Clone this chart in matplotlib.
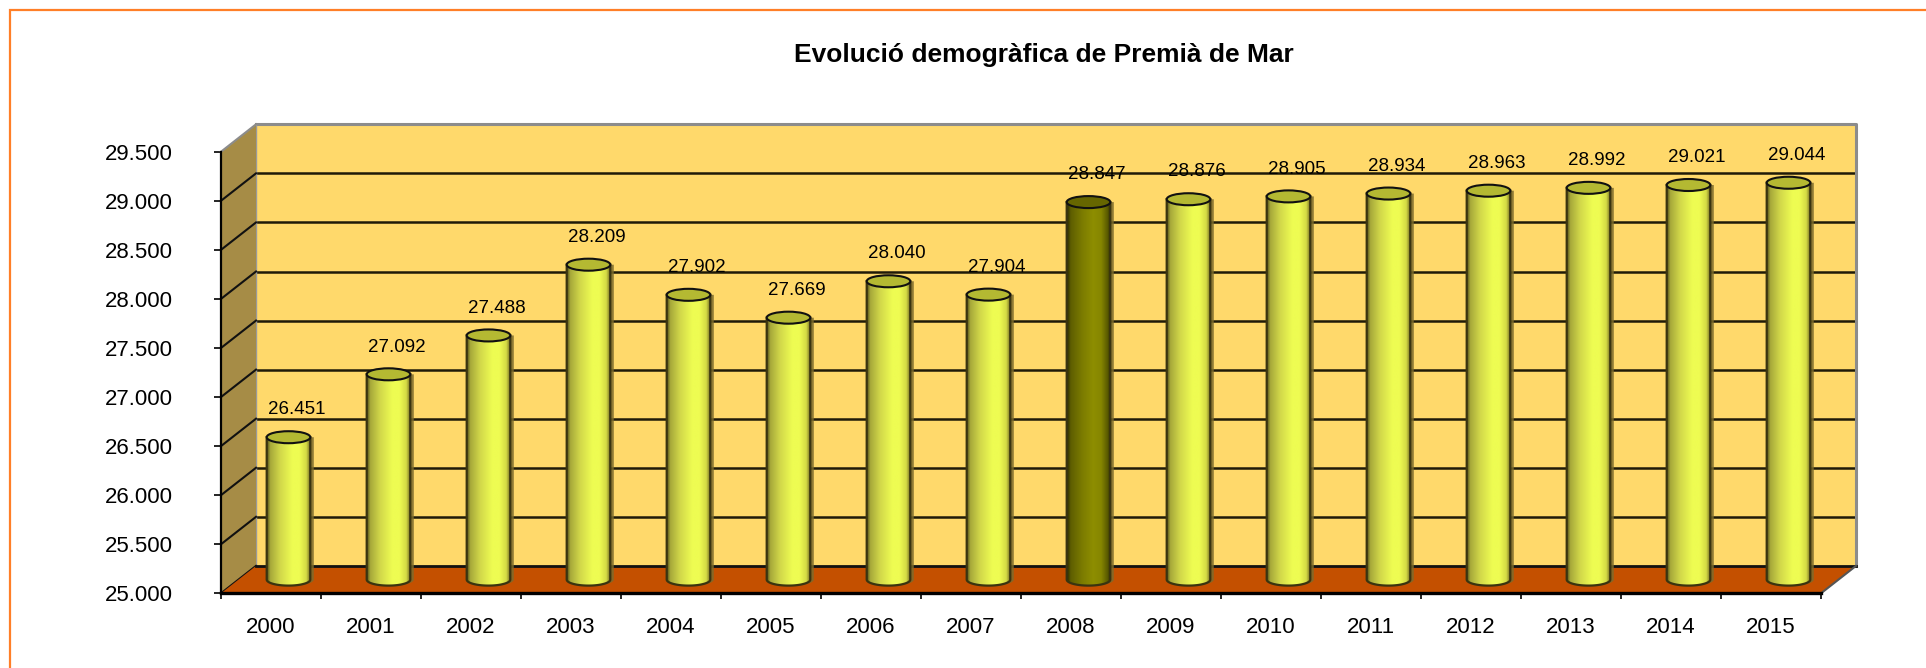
import numpy as np
import matplotlib
matplotlib.use("Agg")
import matplotlib.pyplot as plt
import matplotlib.transforms as mtransforms
from matplotlib.patches import Rectangle, Polygon, Ellipse, PathPatch
from matplotlib.path import Path
from matplotlib.lines import Line2D
from matplotlib.colors import LinearSegmentedColormap

# ---------------- data ----------------
title = "Evolució demogràfica de Premià de Mar"
years = ["2000", "2001", "2002", "2003", "2004", "2005", "2006", "2007",
         "2008", "2009", "2010", "2011", "2012", "2013", "2014", "2015"]
population = [26451, 27092, 27488, 28209, 27902, 27669, 28040, 27904,
              28847, 28876, 28905, 28934, 28963, 28992, 29021, 29044]
highlight_year = "2008"
y_ticks = [25000, 25500, 26000, 26500, 27000, 27500, 28000, 28500, 29000, 29500]


def fmt(v):
    return f"{v:,}".replace(",", ".")


plt.rcParams["font.family"] = ["Liberation Sans", "DejaVu Sans"]

W, H, DPI = 1926, 668, 100
fig = plt.figure(figsize=(W / DPI, H / DPI), dpi=DPI)
fig.patch.set_facecolor("white")

ax = fig.add_axes([221 / W, (H - 593.3) / H, 1600 / W, 441.6 / H])
ax.patch.set_visible(False)
x0, x1 = -0.5, len(years) - 0.5
y0, y1 = y_ticks[0], y_ticks[-1]

# depth of the pseudo-3D box (inches)
DX, DY = 0.35, 0.274


def shift(f, extra_x=0.0):
    return ax.transData + mtransforms.ScaledTranslation(DX * f + extra_x, DY * f,
                                                        fig.dpi_scale_trans)


tr_back = shift(1.0)
tr_mid = shift(0.5)
ident = mtransforms.IdentityTransform()

ax.set_xlim(x0, x1)
ax.set_ylim(y0, y1)


def proj(x, y, f):
    p = ax.transData.transform((x, y))
    return (p[0] + DX * f * DPI, p[1] + DY * f * DPI)


# back wall
ax.add_patch(Rectangle((x0, y0), x1 - x0, y1 - y0, transform=tr_back,
                       facecolor="#FFD96B", edgecolor="none", zorder=1, clip_on=False))
for yv in y_ticks[1:-1]:
    ax.plot([x0, x1], [yv, yv], transform=tr_back, color="#1f1a08", lw=1.8,
            zorder=2, clip_on=False, solid_capstyle="butt")
ax.plot([x0, x1, x1], [y1, y1, y0], transform=tr_back, color="#8c8c8c", lw=2.2,
        zorder=2, clip_on=False)
ax.plot([x0, x0], [y0, y1], transform=tr_back, color="#9a9a9a", lw=1.0,
        zorder=2, clip_on=False)

# side wall
ax.add_patch(Polygon([proj(x0, y0, 0), proj(x0, y1, 0), proj(x0, y1, 1), proj(x0, y0, 1)],
                     closed=True, transform=ident, facecolor="#A68C46",
                     edgecolor="none", zorder=2.5, clip_on=False))
for yv in y_ticks:
    a, b = proj(x0, yv, 0), proj(x0, yv, 1)
    ax.add_line(Line2D([a[0], b[0]], [a[1], b[1]], transform=ident,
                       color="#8c8c8c" if yv == y1 else "#111111", lw=1.5,
                       zorder=2.6, clip_on=False))

# floor
ax.add_patch(Polygon([proj(x0, y0, 0), proj(x1, y0, 0), proj(x1, y0, 1), proj(x0, y0, 1)],
                     closed=True, transform=ident, facecolor="#C45000",
                     edgecolor="none", zorder=3, clip_on=False))
ax.plot([x0, x1], [y0, y0], transform=tr_back, color="#111111", lw=2.0,
        zorder=3.1, clip_on=False)
a, b = proj(x1, y0, 0), proj(x1, y0, 1)
ax.add_line(Line2D([a[0], b[0]], [a[1], b[1]], transform=ident, color="#555555",
                   lw=1.5, zorder=3.1, clip_on=False))

# cylinders
cmap_norm = LinearSegmentedColormap.from_list("cyl", [
    (0.0, "#5a5518"), (0.07, "#a6a83a"), (0.3, "#d2d84a"), (0.58, "#eefc52"),
    (0.74, "#eefc52"), (0.9, "#d4da44"), (1.0, "#6a6020")])
cmap_hi = LinearSegmentedColormap.from_list("cylhi", [
    (0.0, "#2c2c00"), (0.08, "#5e5e00"), (0.35, "#7c7c00"), (0.6, "#8e8e00"),
    (0.78, "#868600"), (0.93, "#5a5a00"), (1.0, "#2a2a00")])
grad_n = cmap_norm(np.linspace(0, 1, 96))[None, :, :]
grad_h = cmap_hi(np.linspace(0, 1, 96))[None, :, :]

bw = 0.436
px_per_unit = ax.bbox.height / (y1 - y0)
eh = 12.0 / px_per_unit
tt = np.linspace(np.pi, 2 * np.pi, 48)

for i, (yr, v) in enumerate(zip(years, population)):
    hi = yr == highlight_year
    verts = [(i - bw / 2, v), (i - bw / 2, y0)]
    verts += [(i + bw / 2 * np.cos(t), y0 + eh / 2 * np.sin(t)) for t in tt]
    verts += [(i + bw / 2, v), (i - bw / 2, v)]
    path = Path(verts, closed=True)

    ax.add_patch(PathPatch(path, transform=shift(0.5, 0.035), facecolor="#7d6b2c",
                           edgecolor="none", alpha=0.85, zorder=4, clip_on=False))
    outline = PathPatch(path, transform=tr_mid, facecolor="none",
                        edgecolor="#3a3410", lw=1.6, zorder=5.5, clip_on=False)
    ax.add_patch(outline)
    im = ax.imshow(grad_h if hi else grad_n, extent=[i - bw / 2, i + bw / 2, y0 - eh / 2, v],
                   transform=tr_mid, aspect="auto", interpolation="bilinear", zorder=5)
    im.set_clip_path(outline)

    ax.add_patch(Ellipse((i, v), bw, eh, transform=tr_mid,
                         facecolor="#666600" if hi else "#b4b932",
                         edgecolor="#111111", lw=1.5, zorder=6, clip_on=False))

# value labels
tr_lab = ax.transData + mtransforms.ScaledTranslation(0.26, 0.41, fig.dpi_scale_trans)
for i, v in enumerate(population):
    ax.text(i, v, fmt(v), transform=tr_lab, ha="center", va="center",
            fontsize=13.5, color="black", zorder=7)

ax.set_xlim(x0, x1)
ax.set_ylim(y0, y1)
ax.set_aspect("auto")

# axes / ticks
for s in ("top", "right"):
    ax.spines[s].set_visible(False)
ax.spines["left"].set_linewidth(1.6)
ax.spines["bottom"].set_linewidth(2.4)
for s in ("left", "bottom"):
    ax.spines[s].set_color("black")
    ax.spines[s].set_zorder(10)

ax.set_xticks(range(len(years)))
ax.set_xticklabels(years)
ax.set_xticks(np.arange(x0, x1 + 0.01, 1), minor=True)
ax.tick_params(axis="x", which="major", length=0, pad=17, labelsize=16)
ax.tick_params(axis="x", which="minor", length=4, width=1.2, direction="out")
ax.set_yticks(y_ticks)
ax.set_yticklabels([fmt(t) for t in y_ticks])
ax.tick_params(axis="y", length=5, width=1.2, direction="out", pad=29.5, labelsize=16)

# title
fig.text(1044 / W, 1 - 55 / H, title, ha="center", va="center",
         fontsize=19, fontweight="bold", color="black")

# orange frame (left and top edges visible)
fig.add_artist(Rectangle((10 / W, -0.1), 1.1, 1.1 - 10 / H, transform=fig.transFigure,
                         fill=False, edgecolor="#FF7F27", lw=1.6))

fig.savefig("out.png", dpi=DPI, facecolor="white")
